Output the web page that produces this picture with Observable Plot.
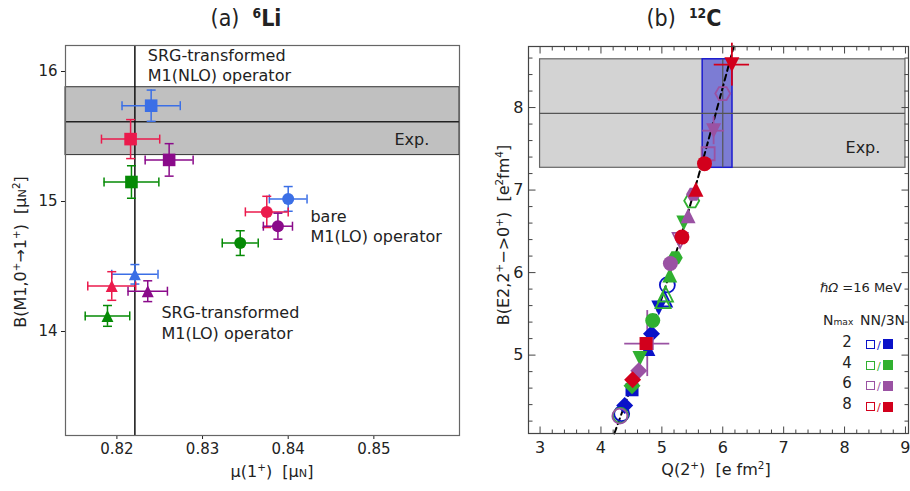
<!DOCTYPE html>
<html><head><meta charset="utf-8">
<script src="https://cdn.jsdelivr.net/npm/d3@7"></script>
<script src="https://cdn.jsdelivr.net/npm/@observablehq/plot@0.6"></script>
<style>
body{margin:0;background:#fff;}
#wrap{position:relative;width:910px;height:491px;overflow:hidden;font-family:"DejaVu Sans",sans-serif;color:#222;background:#fff;}
.abs{position:absolute;white-space:nowrap;line-height:1;}
.rot{transform:translate(-50%,-50%) rotate(-90deg);}
.ctr{transform:translate(-50%,-50%);}
.ttl{font-family:"DejaVu Sans Condensed","DejaVu Sans",sans-serif;font-size:23px;}
.box{display:inline-block;width:9px;height:9px;vertical-align:middle;box-sizing:border-box;}
</style></head><body><div id="wrap"></div>
<script>
// ---------- Panel (a): 6Li ----------
const liColors = ["#3b6fe6", "#eb1a4c", "#8a0a8a", "#058a05"];
// SRG-transformed M1(NLO) operator (squares)
const nloMu = [0.8240, 0.8216, 0.8261, 0.8217];
const nloMuErr = [0.0034, 0.0034, 0.0028, 0.0032];
const nloB = [15.737, 15.48, 15.32, 15.15];
const nloBErr = [0.12, 0.15, 0.125, 0.125];
// bare M1(LO) operator (circles)
const bareMu = [0.8400, 0.8375, 0.8388, 0.8344];
const bareMuErr = [0.0022, 0.0025, 0.0017, 0.0021];
const bareB = [15.02, 14.92, 14.81, 14.68];
const bareBErr = [0.095, 0.12, 0.10, 0.095];
// SRG-transformed M1(LO) operator (triangles)
const loMu = [0.8221, 0.8194, 0.8236, 0.8189];
const loMuErr = [0.0027, 0.0028, 0.0023, 0.0026];
const loB = [14.44, 14.35, 14.31, 14.12];
const loBErr = [0.075, 0.11, 0.08, 0.08];
// experiment
const liExpMu = [0.8221];
const liExpB = [15.357, 15.614, 15.879];
const aXDomain = [0.814, 0.86];
const aYDomain = [13.2, 16.2];
const aXTicks = [0.82, 0.83, 0.84, 0.85];
const aYTicks = [14, 15, 16];
const aNotes = ["SRG-transformed", "M1(NLO) operator", "Exp.", "bare", "M1(LO) operator", "SRG-transformed", "M1(LO) operator"];
const aNoteX = [0.8236, 0.8236, 0.8524, 0.8426, 0.8426, 0.8252, 0.8252];
const aNoteY = [16.123, 15.969, 15.477, 14.879, 14.725, 14.141, 13.982];

// ---------- Panel (b): 12C ----------
const nmaxList = [2, 4, 6, 8];
const nmaxColors = ["#0a12c8", "#30b030", "#9a52a3", "#d2001c"];
const c12Nmax =   [2,2,2,2,2,2,2,2, 4,4,4,4,4,4,4,4,4,4, 6,6,6,6,6,6,6,6,6,6, 8,8,8,8,8,8];
const c12Shape = ["circle","triangle","triangleDown","diamond","triangle","square","diamond","circle",
  "circle","diamond","triangleDown","circle","triangle","triangle","triangle","hexagon","triangleDown","hexagon",
  "circle","diamond","square","circle","triangleDown","triangle","hexagon","square","triangleDown","hexagon",
  "diamond","square","circle","triangle","circle","triangleDown"];
const c12Filled = [0,0,1,1,1,1,1,0, 0,1,1,1,0,0,1,1,1,0, 0,1,1,1,0,1,1,0,1,0, 1,1,1,1,1,1];
const c12Q = [5.09,5.04,4.95,4.83,4.77,4.51,4.39,4.34, 4.32,4.51,4.64,4.85,5.02,5.06,5.13,5.22,5.36,5.49,
  4.31,4.62,4.76,5.14,5.30,5.43,5.52,5.76,5.85,6.00, 4.52,4.74,5.33,5.56,5.70,6.15];
const c12B = [5.85,5.68,5.57,5.26,5.08,4.58,4.39,4.29, 4.27,4.63,4.96,5.42,5.66,5.74,5.97,6.18,6.60,6.87,
  4.26,4.81,5.14,6.11,6.39,6.69,6.95,7.44,7.72,8.17, 4.70,5.14,6.43,7.01,7.32,8.52];
const c12QErr = [0,0,0,0,0,0,0,0, 0,0,0,0,0,0,0,0,0,0, 0,0,0.37,0,0,0,0,0,0.18,0, 0,0,0,0,0,0.29];
const c12BErr = [0,0,0,0,0,0,0,0, 0,0,0,0,0,0,0,0,0,0, 0,0,0.40,0,0,0,0,0,0.17,0, 0,0,0,0,0,0.26];
const fitQ = [4.22, 5.20, 6.18];
const fitB = [4.05, 6.16, 8.74];
const c12ExpBandQ = [3.0, 9.0];
const c12ExpB = [7.27, 7.93, 8.585];
const c12ExpQ = [5.67, 6.00, 6.16];
const bXDomain = [2.81, 9.05];
const bYDomain = [4.05, 8.74];
const bXTicks = [3, 4, 5, 6, 7, 8, 9];
const bYTicks = [5, 6, 7, 8];
const bNoteQ = [8.016], bNoteB = [7.51];

// ---------- symbols ----------
function symbolOf(name) {
  return {draw(c, size) {
    const r = Math.sqrt(size / Math.PI);
    switch (name) {
      case "circle": c.moveTo(r, 0); c.arc(0, 0, r, 0, 2 * Math.PI); break;
      case "square": c.rect(-r, -r, 2 * r, 2 * r); break;
      case "triangle": c.moveTo(0, -r); c.lineTo(r, r); c.lineTo(-r, r); c.closePath(); break;
      case "triangleDown": c.moveTo(0, r); c.lineTo(r, -r); c.lineTo(-r, -r); c.closePath(); break;
      case "diamond": c.moveTo(0, -r); c.lineTo(r, 0); c.lineTo(0, r); c.lineTo(-r, 0); c.closePath(); break;
      case "hexagon":
        for (let k = 0; k < 6; k++) { const a = k * Math.PI / 3; const px = r * Math.cos(a), py = r * Math.sin(a); k ? c.lineTo(px, py) : c.moveTo(px, py); }
        c.closePath(); break;
      case "capH": c.moveTo(-r, 0); c.lineTo(r, 0); break;
      case "capV": c.moveTo(0, -r); c.lineTo(0, r); break;
    }
  }};
}
const tickSym = (dx, dy) => ({draw(c) { c.moveTo(0, 0); c.lineTo(dx, dy); }});

// ---------- build panel (a) ----------
function mk(mu, me, b, be, shape) {
  return mu.map((m, i) => ({mu: m, me: me[i], b: b[i], be: be[i], color: liColors[i], shape}));
}
const aPts = [...mk(nloMu, nloMuErr, nloB, nloBErr, "square"),
              ...mk(bareMu, bareMuErr, bareB, bareBErr, "circle"),
              ...mk(loMu, loMuErr, loB, loBErr, "triangle")];
const aSize = {square: 6.3, circle: 6, triangle: 6};
const aMarks = [
  Plot.rect([liExpB], {y1: d => d[0], y2: d => d[2], fill: "#c0c0c0", stroke: "#333", strokeWidth: 1}),
  Plot.ruleY([liExpB[1]], {stroke: "#222", strokeWidth: 1.5}),
  Plot.ruleX(liExpMu, {stroke: "#111", strokeWidth: 1.5})
];
for (const p of aPts) {
  aMarks.push(
    Plot.ruleX([p], {x: "mu", y1: d => d.b - d.be, y2: d => d.b + d.be, stroke: p.color, strokeWidth: 1.5}),
    Plot.ruleY([p], {y: "b", x1: d => d.mu - d.me, x2: d => d.mu + d.me, stroke: p.color, strokeWidth: 1.5}),
    Plot.dot([p, p], {x: "mu", y: (d, i) => i ? d.b + d.be : d.b - d.be, symbol: symbolOf("capH"), r: 4.5, stroke: p.color, strokeWidth: 1.5, fill: "none"}),
    Plot.dot([p, p], {x: (d, i) => i ? d.mu + d.me : d.mu - d.me, y: "b", symbol: symbolOf("capV"), r: 4.5, stroke: p.color, strokeWidth: 1.5, fill: "none"}),
    Plot.dot([p], {x: "mu", y: "b", symbol: symbolOf(p.shape), r: aSize[p.shape], fill: p.color, stroke: "none"})
  );
}
aMarks.push(
  Plot.frame({stroke: "#666", strokeWidth: 1.2}),
  Plot.text(aNotes, {x: (d, i) => aNoteX[i], y: (d, i) => aNoteY[i], text: d => d, textAnchor: "start", fontSize: 16, fill: "#222"})
);
const A = Plot.plot({
  width: 470, height: 491,
  marginLeft: 65, marginRight: 11, marginTop: 45, marginBottom: 56,
  x: {domain: aXDomain, ticks: aXTicks, tickFormat: d => d.toFixed(2), tickSize: 4, tickPadding: 4, label: null},
  y: {domain: aYDomain, ticks: aYTicks, tickFormat: d => String(d), tickSize: 4, tickPadding: 4, label: null},
  style: {fontFamily: "DejaVu Sans, sans-serif", fontSize: "15px", color: "#222", background: "transparent"},
  marks: aMarks
});

// ---------- build panel (b) ----------
const cPts = c12Q.map((q, i) => ({q, b: c12B[i], qe: c12QErr[i], be: c12BErr[i], shape: c12Shape[i], filled: c12Filled[i], color: nmaxColors[nmaxList.indexOf(c12Nmax[i])]}));
const bSize = {circle: 7.5, square: 6.5, triangle: 7.5, triangleDown: 7.5, diamond: 8.5, hexagon: 7.5};
const bMarks = [
  Plot.rect([c12ExpB], {x1: () => c12ExpBandQ[0], x2: () => c12ExpBandQ[1], y1: d => d[0], y2: d => d[2], fill: "#d3d3d3", stroke: "#666", strokeWidth: 1.2}),
  Plot.rect([c12ExpQ], {x1: d => d[0], x2: d => d[2], y1: () => c12ExpB[0], y2: () => c12ExpB[2], fill: "#7c7cd4", stroke: "#1c1cd0", strokeWidth: 1.5}),
  Plot.ruleY([c12ExpB[1]], {x1: () => c12ExpBandQ[0], x2: () => c12ExpBandQ[1], stroke: "#555", strokeWidth: 1.2}),
  Plot.ruleX([c12ExpQ[1]], {y1: () => c12ExpB[0], y2: () => c12ExpB[2], stroke: "#555", strokeWidth: 1.2}),
  Plot.line(fitQ.map((q, i) => ({q, b: fitB[i]})), {x: "q", y: "b", stroke: "#000", strokeWidth: 2, strokeDasharray: "6,4", curve: "natural"})
];
for (const p of cPts) {
  if (p.qe > 0) bMarks.push(
    Plot.ruleY([p], {y: "b", x1: d => d.q - d.qe, x2: d => d.q + d.qe, stroke: p.color, strokeWidth: 1.8}),
    Plot.ruleX([p], {x: "q", y1: d => d.b - d.be, y2: d => d.b + d.be, stroke: p.color, strokeWidth: 1.8})
  );
}
for (const p of cPts) {
  bMarks.push(Plot.dot([p], {x: "q", y: "b", symbol: symbolOf(p.shape), r: bSize[p.shape],
    fill: p.filled ? p.color : "none", stroke: p.filled ? "none" : p.color, strokeWidth: 1.8}));
}
const bXMinor = d3.range(3, 9.01, 0.2).map(v => +v.toFixed(1)).filter(v => !bXTicks.includes(v));
const bYMinor = d3.range(4.2, 8.71, 0.2).map(v => +v.toFixed(1)).filter(v => !bYTicks.includes(v));
const tk = {stroke: "#444", strokeWidth: 1};
bMarks.push(
  Plot.frame({stroke: "#444", strokeWidth: 1.2}),
  Plot.dot(bXTicks, {x: d => d, y: () => bYDomain[0], symbol: tickSym(0, -7), ...tk}),
  Plot.dot(bXMinor, {x: d => d, y: () => bYDomain[0], symbol: tickSym(0, -4), ...tk}),
  Plot.dot(bXTicks, {x: d => d, y: () => bYDomain[1], symbol: tickSym(0, 7), ...tk}),
  Plot.dot(bXMinor, {x: d => d, y: () => bYDomain[1], symbol: tickSym(0, 4), ...tk}),
  Plot.dot(bYTicks, {y: d => d, x: () => bXDomain[0], symbol: tickSym(7, 0), ...tk}),
  Plot.dot(bYMinor, {y: d => d, x: () => bXDomain[0], symbol: tickSym(4, 0), ...tk}),
  Plot.dot(bYTicks, {y: d => d, x: () => bXDomain[1], symbol: tickSym(-7, 0), ...tk}),
  Plot.dot(bYMinor, {y: d => d, x: () => bXDomain[1], symbol: tickSym(-4, 0), ...tk}),
  Plot.text(["Exp."], {x: () => bNoteQ[0], y: () => bNoteB[0], text: d => d, textAnchor: "start", fontSize: 16, fill: "#222"})
);
const B = Plot.plot({
  width: 440, height: 491,
  marginLeft: 58, marginRight: 2, marginTop: 46, marginBottom: 58,
  x: {domain: bXDomain, ticks: bXTicks, tickFormat: d => String(d), tickSize: 0, tickPadding: 8, label: null},
  y: {domain: bYDomain, ticks: bYTicks, tickFormat: d => String(d), tickSize: 0, tickPadding: 5, label: null},
  style: {fontFamily: "DejaVu Sans, sans-serif", fontSize: "16px", color: "#222", background: "transparent"},
  marks: bMarks
});

// ---------- assemble ----------
const wrap = document.getElementById("wrap");
for (const [svg, left] of [[A, 0], [B, 470]]) {
  svg.style.position = "absolute"; svg.style.left = left + "px"; svg.style.top = "0px";
  wrap.appendChild(svg);
}
function addDiv(html, css, cls) {
  const d = document.createElement("div");
  d.className = "abs " + (cls || "");
  d.innerHTML = html;
  Object.assign(d.style, css);
  wrap.appendChild(d);
  return d;
}
addDiv('(a)&nbsp;&nbsp;<b><sup style="font-size:60%">6</sup>Li</b>', {left: "246px", top: "18px"}, "ttl ctr");
addDiv('(b)&nbsp;&nbsp;<b><sup style="font-size:60%">12</sup>C</b>', {left: "684px", top: "18px"}, "ttl ctr");
addDiv('μ(1<sup style="font-size:65%">+</sup>)&nbsp;&nbsp;[μ<span style="font-size:70%">N</span>]', {left: "272px", top: "471px", fontSize: "16px"}, "ctr");
addDiv('B(M1,0<sup style="font-size:65%">+</sup>→1<sup style="font-size:65%">+</sup>)&nbsp;&nbsp;[μ<span style="font-size:70%">N</span><sup style="font-size:65%">2</sup>]', {left: "20px", top: "252px", fontSize: "16px"}, "rot");
addDiv('Q(2<sup style="font-size:65%">+</sup>)&nbsp;&nbsp;[e fm<sup style="font-size:65%">2</sup>]', {left: "716px", top: "469px", fontSize: "16px"}, "ctr");
addDiv('B(E2,2<sup style="font-size:65%">+</sup>−&gt;0<sup style="font-size:65%">+</sup>)&nbsp;&nbsp;[e<sup style="font-size:65%">2</sup>fm<sup style="font-size:65%">4</sup>]', {left: "503px", top: "235px", fontSize: "16px"}, "rot");
// legend
addDiv('<i>ℏΩ</i> =16 MeV', {right: "8px", top: "281px", fontSize: "13px"});
addDiv('N<span style="font-size:65%">max</span>', {left: "823px", top: "313px", fontSize: "14px"});
addDiv('NN/3N', {left: "860px", top: "313px", fontSize: "14px"});
const rowY = [341.7, 362.7, 383.3, 404.3];
nmaxList.forEach((n, i) => {
  const c = nmaxColors[i];
  addDiv(String(n), {left: "847px", top: rowY[i] + "px", fontSize: "15px"}, "ctr");
  addDiv(`<span class="box" style="border:1.5px solid ${c};"></span><span style="color:${c};font-size:11px;margin:0 2px;">/</span><span class="box" style="background:${c};width:10px;height:10px;"></span>`,
    {left: "866px", top: (rowY[i] - 6) + "px"});
});
</script></body></html>
